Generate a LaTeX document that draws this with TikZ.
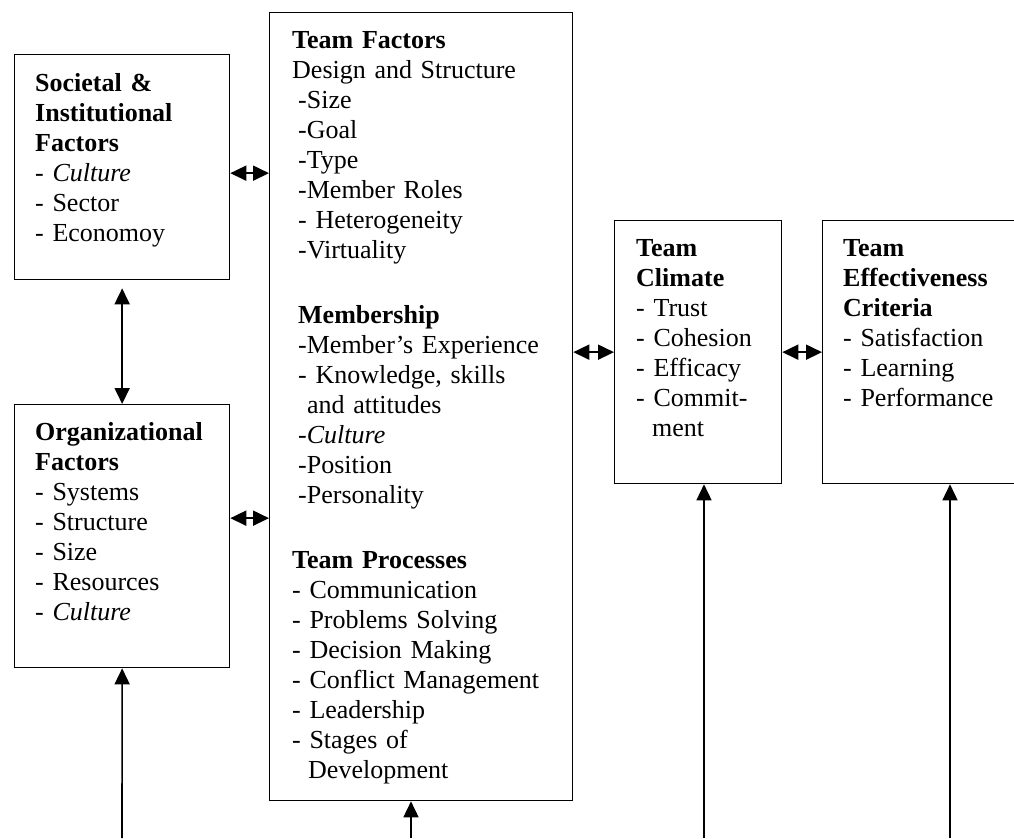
\documentclass[tikz,border=0pt]{standalone}
\usepackage{fontspec}
\setmainfont{Liberation Serif}
\usetikzlibrary{arrows.meta}
\tikzset{
        box/.style={draw, line width=1.3pt, anchor=north west, inner sep=0pt},
        txt/.style={anchor=base west, inner sep=0pt, text width=#1, align=left,
                font=\fontsize{26}{30}\selectfont},
        link/.style={line width=1.8pt,
                {Triangle[length=16pt,width=15pt]}-{Triangle[length=16pt,width=15pt]}},
        feed/.style={line width=1.6pt, -{Triangle[length=16pt,width=15pt]}}
}
\begin{document}
\begin{tikzpicture}[x=1pt,y=-1pt]
        \useasboundingbox (0,0) rectangle (1014,838);
        \clip (0,0) rectangle (1014,838);
        \node [box, minimum width=215pt, minimum height=225pt] (soc) at (14,54) {};
        \node [box, minimum width=303pt, minimum height=788pt] (tf) at (269,12) {};
        \node [box, minimum width=215pt, minimum height=263pt] (org) at (14,404) {};
        \node [box, minimum width=167pt, minimum height=263pt] (clim) at (614,220) {};
        \node [box, minimum width=230pt, minimum height=263pt] (eff) at (822,220) {};

        \node [txt=190pt] (soctxt) at ([shift={(21,37)}]soc.north west)
                {\textbf{Societal \&}\\ \textbf{Institutional}\\ \textbf{Factors}\\
                - \textit{Culture}\\ - Sector\\ - Economoy};
        \node [txt=190pt] (orgtxt) at ([shift={(21,36)}]org.north west)
                {\textbf{Organizational}\\ \textbf{Factors}\\ - Systems\\ - Structure\\
                - Size\\ - Resources\\ - \textit{Culture}};
        \node [txt=275pt] (tftxt) at ([shift={(23,36)}]tf.north west)
                {\textbf{Team Factors}\\
                Design and Structure\\
                \hspace*{6pt}-Size\\
                \hspace*{6pt}-Goal\\
                \hspace*{6pt}-Type\\
                \hspace*{6pt}-Member Roles\\
                \hspace*{6pt}- Heterogeneity\\
                \hspace*{6pt}-Virtuality\\[35pt]
                \hspace*{6pt}\textbf{Membership}\\
                \hspace*{6pt}-Member's Experience\\
                \hspace*{6pt}- Knowledge, skills\\
                \hspace*{15pt}and attitudes\\
                \hspace*{6pt}-\textit{Culture}\\
                \hspace*{6pt}-Position\\
                \hspace*{6pt}-Personality\\[35pt]
                \textbf{Team Processes}\\
                - Communication\\
                - Problems Solving\\
                - Decision Making\\
                - Conflict Management\\
                - Leadership\\
                - Stages of\\
                \hspace*{16pt}Development};
        \node [txt=150pt] (climtxt) at ([shift={(22,36)}]clim.north west)
                {\textbf{Team}\\ \textbf{Climate}\\ - Trust\\ - Cohesion\\ - Efficacy\\
                - Commit-\\ \hspace*{16pt}ment};
        \node [txt=180pt] (efftxt) at ([shift={(21,36)}]eff.north west)
                {\textbf{Team}\\ \textbf{Effectiveness}\\ \textbf{Criteria}\\
                - Satisfaction\\ - Learning\\ - Performance};

        \draw [link] ([yshift=-6pt]soc.east) -- ([yshift=-6pt]soc.east -| tf.west);
        \draw [link] ([yshift=18pt]org.east) -- ([yshift=18pt]org.east -| tf.west);
        \draw [link] ([yshift=-8pt]soc.south) -- (org.north);
        \draw [link] (clim.west -| tf.east) -- (clim.west);
        \draw [link] (clim.east) -- (clim.east -| eff.west);

        \coordinate (b1) at (122,838);
        \coordinate (b2) at (411,838);
        \coordinate (b3) at (704,838);
        \coordinate (b4) at (950,838);
        \draw [feed] (b1) -- (org.south);
        \draw [feed] (b2) -- (b2 |- tf.south);
        \draw [feed] (b3) -- (b3 |- clim.south);
        \draw [feed] (b4) -- (b4 |- eff.south);
\end{tikzpicture}
\end{document}
